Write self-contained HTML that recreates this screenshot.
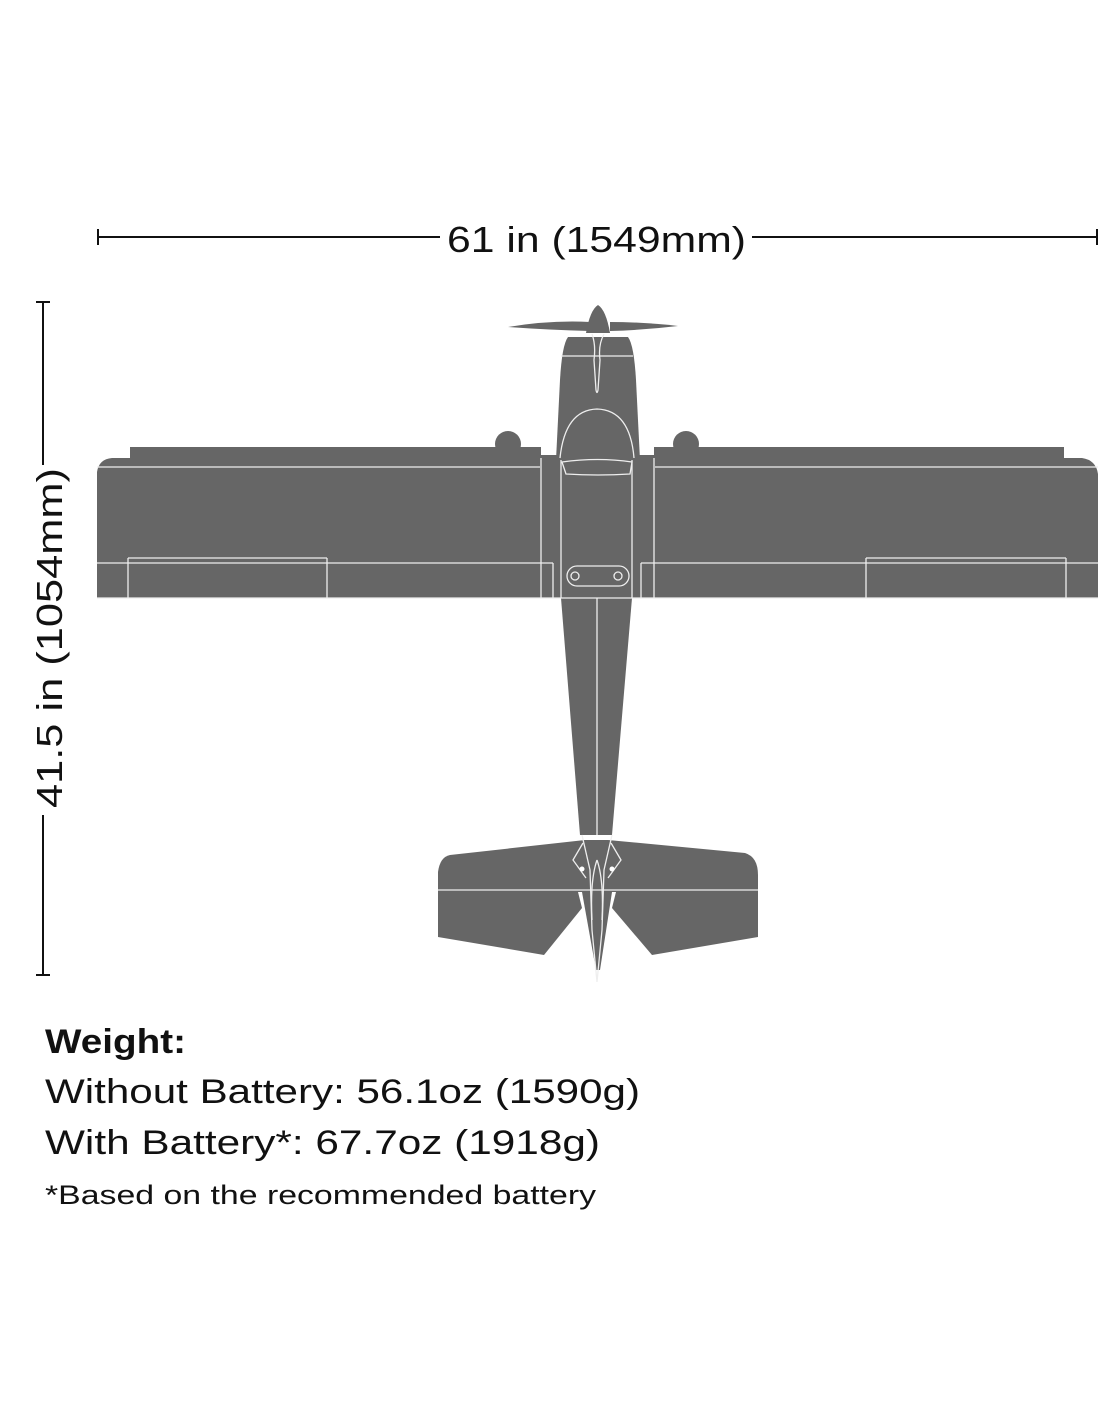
<!DOCTYPE html>
<html><head><meta charset="utf-8"><style>html,body{margin:0;padding:0;background:#fff}svg{display:block}</style></head>
<body>
<svg width="1100" height="1422" viewBox="0 0 1100 1422" xmlns="http://www.w3.org/2000/svg" font-family="Liberation Sans, sans-serif">
<rect width="1100" height="1422" fill="#fff"/>
<!-- horizontal dimension -->
<line x1="98" y1="237" x2="440" y2="237" stroke="#111" stroke-width="2"/>
<line x1="752" y1="237" x2="1097" y2="237" stroke="#111" stroke-width="2"/>
<line x1="98" y1="229" x2="98" y2="245" stroke="#111" stroke-width="2"/>
<line x1="1097" y1="229" x2="1097" y2="245" stroke="#111" stroke-width="2"/>
<text x="447" y="252" font-size="36" textLength="299" lengthAdjust="spacingAndGlyphs" fill="#111">61 in (1549mm)</text>
<!-- vertical dimension -->
<line x1="43" y1="302" x2="43" y2="465" stroke="#111" stroke-width="2"/>
<line x1="43" y1="815" x2="43" y2="975" stroke="#111" stroke-width="2"/>
<line x1="36" y1="302" x2="50" y2="302" stroke="#111" stroke-width="2"/>
<line x1="36" y1="975" x2="50" y2="975" stroke="#111" stroke-width="2"/>
<text transform="translate(62,808) rotate(-90)" font-size="36" textLength="340" lengthAdjust="spacingAndGlyphs" fill="#111">41.5 in (1054mm)</text>
<g fill="#666" stroke="none">
<!-- prop -->
<path d="M508,327 Q550,320 590,322 L590,331 Q550,330 508,327Z"/>
<path d="M610,322 Q645,322 678,326 Q645,330 610,331Z"/>
<path d="M586,333 Q590,310 598,305 Q606,310 610,333Z"/>
<!-- wheels -->
<circle cx="508" cy="444" r="13"/><circle cx="686" cy="444" r="13"/>
<!-- fuselage nose -->
<path d="M568,337 L628,337 Q634,345 636,380 L640,460 L556,460 L560,380 Q562,345 568,337Z"/>
<!-- wing -->
<rect x="130" y="447" width="411" height="22"/>
<rect x="654" y="447" width="410" height="22"/>
<path d="M97,598 L97,472 Q99,459 112,458 L130,458 L130,467 L1064,467 L1064,458 L1082,458 Q1096,460 1098,474 L1098,598Z"/>
<rect x="540" y="455" width="116" height="143"/>
<!-- aft fuselage -->
<path d="M561,598 L632,598 L612,835 L580,835Z"/>
<!-- stab -->
<path d="M450,855 L585,840 L608,840 L745,853 Q758,857 758,875 L758,892 L438,892 L438,872 Q440,857 450,855Z"/>
<path d="M438,892 L578,892 L582,908 L544,955 L438,937Z"/>
<path d="M758,892 L616,892 L612,908 L652,955 L758,937Z"/>
<path d="M582,892 L612,892 L600,970 L596,970Z"/>
</g>
<g fill="none" stroke="#eee" stroke-width="1.3">
<line x1="561" y1="356" x2="633" y2="356"/>
<path d="M592,334 Q596,345 594,360 L596,390 Q597,395 598,390 L600,360 Q598,345 604,334"/>
<path d="M560,458 Q565,410 597,409 Q630,410 634,458"/>
<path d="M562,462 Q598,457 632,462 L630,474 Q598,476 566,474Z"/>
<line x1="561" y1="460" x2="561" y2="598"/><line x1="632" y1="460" x2="632" y2="598"/>
<line x1="541" y1="458" x2="541" y2="598"/><line x1="654" y1="458" x2="654" y2="598"/>
<rect x="567" y="566" width="62" height="20" rx="10"/>
<circle cx="575" cy="576" r="4"/><circle cx="618" cy="576" r="4"/>
<line x1="97" y1="467" x2="540" y2="467"/><line x1="655" y1="467" x2="1098" y2="467"/>
<line x1="97" y1="563" x2="553" y2="563"/><line x1="641" y1="563" x2="1098" y2="563"/>
<line x1="553" y1="563" x2="553" y2="598"/><line x1="641" y1="563" x2="641" y2="598"/>
<line x1="128" y1="558" x2="128" y2="598"/><line x1="327" y1="558" x2="327" y2="598"/>
<line x1="866" y1="558" x2="866" y2="598"/><line x1="1066" y1="558" x2="1066" y2="598"/>
<line x1="128" y1="558" x2="327" y2="558"/><line x1="866" y1="558" x2="1066" y2="558"/>
<line x1="97" y1="598" x2="1098" y2="598"/>
<line x1="597" y1="598" x2="597" y2="835"/>
<line x1="438" y1="890" x2="758" y2="890"/>
<path d="M582,835 L590,870 L592,930 L597,982 L602,930 L604,870 L612,835"/>
<path d="M597,860 Q590,880 592,920 M597,860 Q604,880 602,920"/>
<path d="M583,843 L573,860 L586,878 M611,843 L621,860 L608,878"/>
</g>
<circle cx="582" cy="869" r="2.5" fill="#fff"/><circle cx="612" cy="869" r="2.5" fill="#fff"/>
<g fill="#111">
<text x="45" y="1053" font-size="34" font-weight="bold" textLength="141" lengthAdjust="spacingAndGlyphs">Weight:</text>
<text x="45" y="1103" font-size="34" textLength="595" lengthAdjust="spacingAndGlyphs">Without Battery: 56.1oz (1590g)</text>
<text x="45" y="1154" font-size="34" textLength="555" lengthAdjust="spacingAndGlyphs">With Battery*: 67.7oz (1918g)</text>
<text x="45" y="1204" font-size="27" textLength="551" lengthAdjust="spacingAndGlyphs">*Based on the recommended battery</text>
</g>
</svg>
</body></html>
